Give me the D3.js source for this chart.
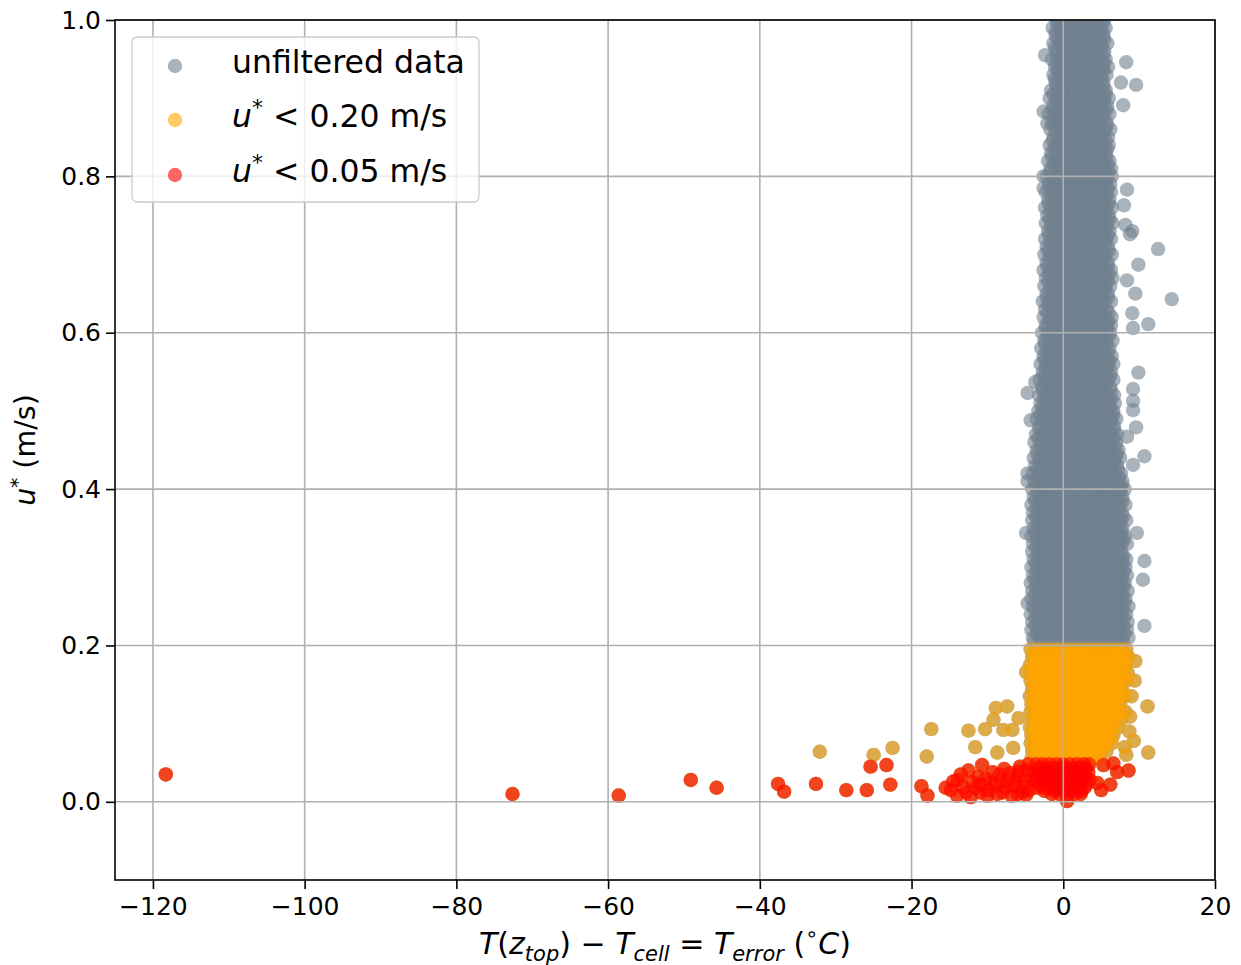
<!DOCTYPE html>
<html><head><meta charset="utf-8">
<script src="https://cdn.jsdelivr.net/npm/d3@7"></script>
<style>
body{margin:0;background:#fff}
svg{display:block}
text{font-family:"DejaVu Sans",sans-serif;fill:#000}
</style>
</head><body>
<svg id="chart" width="1241" height="965"></svg>
<script>
// ---------------- data ----------------
const xTicks = [-120, -100, -80, -60, -40, -20, 0, 20];
const yTicks = [0.0, 0.2, 0.4, 0.6, 0.8, 1.0];
const seriesNames = ["unfiltered data", "u*<0.20 m/s", "u*<0.05 m/s"];
const thresholds = [Infinity, 0.20, 0.05];

// dense cloud, read row by row: u* of each row and the T_error values in it
const coreU = [1.01,1.00,0.99,0.98,0.97,0.96,0.95,0.94,0.93,0.92,0.91,
 0.90,0.89,0.88,0.87,0.86,0.85,0.84,0.83,0.82,0.81,
 0.80,0.79,0.78,0.77,0.76,0.75,0.74,0.73,0.72,0.71,
 0.70,0.69,0.68,0.67,0.66,0.65,0.64,0.63,0.62,0.61,
 0.60,0.59,0.58,0.57,0.56,0.55,0.54,0.53,0.52,0.51,
 0.50,0.49,0.48,0.47,0.46,0.45,0.44,0.43,0.42,0.41,
 0.40,0.39,0.38,0.37,0.36,0.35,0.34,0.33,0.32,0.31,
 0.30,0.29,0.28,0.27,0.26,0.25,0.24,0.23,0.22,0.21,
 0.195,0.185,0.175,0.165,0.155,0.145,0.135,0.125,0.115,0.105,0.095,0.085,0.075,0.065,0.055,
 0.048,0.038,0.028,0.018,0.010];
const coreT = [
 [-1.2,-0.3,0.6,1.5,2.4,3.3,4.2,5.1,5.7],
 [-0.9,0.0,0.9,1.8,2.7,3.6,4.5,5.4],
 [-1.4,-0.5,0.4,1.3,2.2,3.1,4.0,4.9,5.6],
 [-1.0,-0.1,0.8,1.7,2.6,3.5,4.4,5.3],
 [-1.3,-0.4,0.5,1.4,2.3,3.2,4.1,5.0,5.8],
 [-0.9,0.0,0.9,1.8,2.7,3.6,4.5,5.4],
 [-1.5,-0.6,0.3,1.2,2.1,3.0,3.9,4.8,5.6],
 [-1.1,-0.2,0.7,1.6,2.5,3.4,4.3,5.2,5.9],
 [-1.3,-0.4,0.5,1.4,2.3,3.2,4.1,5.0,5.7],
 [-1.0,-0.1,0.8,1.7,2.6,3.5,4.4,5.3],
 [-1.6,-0.7,0.2,1.1,2.0,2.9,3.8,4.7,5.6],
 [-1.8,-0.9,0.0,0.9,1.8,2.7,3.6,4.5,5.4,6.0],
 [-1.4,-0.5,0.4,1.3,2.2,3.1,4.0,4.9,5.8],
 [-1.9,-1.0,-0.1,0.8,1.7,2.6,3.5,4.4,5.3,6.1],
 [-1.5,-0.6,0.3,1.2,2.1,3.0,3.9,4.8,5.7],
 [-1.7,-0.8,0.1,1.0,1.9,2.8,3.7,4.6,5.5,6.2],
 [-1.3,-0.4,0.5,1.4,2.3,3.2,4.1,5.0,5.9],
 [-1.8,-0.9,0.0,0.9,1.8,2.7,3.6,4.5,5.4,6.0],
 [-1.6,-0.7,0.2,1.1,2.0,2.9,3.8,4.7,5.6],
 [-2.0,-1.1,-0.2,0.7,1.6,2.5,3.4,4.3,5.2,6.1],
 [-1.7,-0.8,0.1,1.0,1.9,2.8,3.7,4.6,5.5,6.3],
 [-2.2,-1.3,-0.4,0.5,1.4,2.3,3.2,4.1,5.0,5.9,6.4],
 [-1.9,-1.0,-0.1,0.8,1.7,2.6,3.5,4.4,5.3,6.2],
 [-2.3,-1.4,-0.5,0.4,1.3,2.2,3.1,4.0,4.9,5.8,6.3],
 [-2.0,-1.1,-0.2,0.7,1.6,2.5,3.4,4.3,5.2,6.1],
 [-2.4,-1.5,-0.6,0.3,1.2,2.1,3.0,3.9,4.8,5.7,6.4],
 [-2.1,-1.2,-0.3,0.6,1.5,2.4,3.3,4.2,5.1,6.0],
 [-2.3,-1.4,-0.5,0.4,1.3,2.2,3.1,4.0,4.9,5.8,6.5],
 [-2.0,-1.1,-0.2,0.7,1.6,2.5,3.4,4.3,5.2,6.1],
 [-2.4,-1.5,-0.6,0.3,1.2,2.1,3.0,3.9,4.8,5.7,6.3],
 [-2.2,-1.3,-0.4,0.5,1.4,2.3,3.2,4.1,5.0,5.9],
 [-2.5,-1.6,-0.7,0.2,1.1,2.0,2.9,3.8,4.7,5.6,6.4],
 [-2.2,-1.3,-0.4,0.5,1.4,2.3,3.2,4.1,5.0,5.9],
 [-2.6,-1.7,-0.8,0.1,1.0,1.9,2.8,3.7,4.6,5.5,6.3],
 [-2.3,-1.4,-0.5,0.4,1.3,2.2,3.1,4.0,4.9,5.8,6.5],
 [-2.5,-1.6,-0.7,0.2,1.1,2.0,2.9,3.8,4.7,5.6,6.2],
 [-2.2,-1.3,-0.4,0.5,1.4,2.3,3.2,4.1,5.0,5.9],
 [-2.7,-1.8,-0.9,0.0,0.9,1.8,2.7,3.6,4.5,5.4,6.3],
 [-2.4,-1.5,-0.6,0.3,1.2,2.1,3.0,3.9,4.8,5.7],
 [-2.6,-1.7,-0.8,0.1,1.0,1.9,2.8,3.7,4.6,5.5,6.4],
 [-2.3,-1.4,-0.5,0.4,1.3,2.2,3.1,4.0,4.9,5.8,6.3],
 [-2.8,-1.9,-1.0,-0.1,0.8,1.7,2.6,3.5,4.4,5.3,6.2],
 [-2.5,-1.6,-0.7,0.2,1.1,2.0,2.9,3.8,4.7,5.6,6.5],
 [-2.9,-2.0,-1.1,-0.2,0.7,1.6,2.5,3.4,4.3,5.2,6.1],
 [-2.6,-1.7,-0.8,0.1,1.0,1.9,2.8,3.7,4.6,5.5,6.4],
 [-3.0,-2.1,-1.2,-0.3,0.6,1.5,2.4,3.3,4.2,5.1,6.0,6.6],
 [-2.7,-1.8,-0.9,0.0,0.9,1.8,2.7,3.6,4.5,5.4,6.3],
 [-3.1,-2.2,-1.3,-0.4,0.5,1.4,2.3,3.2,4.1,5.0,5.9,6.6],
 [-2.8,-1.9,-1.0,-0.1,0.8,1.7,2.6,3.5,4.4,5.3,6.2],
 [-3.2,-2.3,-1.4,-0.5,0.4,1.3,2.2,3.1,4.0,4.9,5.8,6.7],
 [-3.0,-2.1,-1.2,-0.3,0.6,1.5,2.4,3.3,4.2,5.1,6.0,6.8],
 [-3.3,-2.4,-1.5,-0.6,0.3,1.2,2.1,3.0,3.9,4.8,5.7,6.6],
 [-3.5,-2.6,-1.7,-0.8,0.1,1.0,1.9,2.8,3.7,4.6,5.5,6.4,7.0],
 [-3.2,-2.3,-1.4,-0.5,0.4,1.3,2.2,3.1,4.0,4.9,5.8,6.7],
 [-3.6,-2.7,-1.8,-0.9,0.0,0.9,1.8,2.7,3.6,4.5,5.4,6.3,7.1],
 [-3.8,-2.9,-2.0,-1.1,-0.2,0.7,1.6,2.5,3.4,4.3,5.2,6.1,7.0],
 [-3.5,-2.6,-1.7,-0.8,0.1,1.0,1.9,2.8,3.7,4.6,5.5,6.4,7.3],
 [-3.9,-3.0,-2.1,-1.2,-0.3,0.6,1.5,2.4,3.3,4.2,5.1,6.0,6.9,7.5],
 [-3.7,-2.8,-1.9,-1.0,-0.1,0.8,1.7,2.6,3.5,4.4,5.3,6.2,7.1],
 [-4.0,-3.1,-2.2,-1.3,-0.4,0.5,1.4,2.3,3.2,4.1,5.0,5.9,6.8,7.6],
 [-3.8,-2.9,-2.0,-1.1,-0.2,0.7,1.6,2.5,3.4,4.3,5.2,6.1,7.0,7.8],
 [-4.1,-3.2,-2.3,-1.4,-0.5,0.4,1.3,2.2,3.1,4.0,4.9,5.8,6.7,7.6,8.1],
 [-3.9,-3.0,-2.1,-1.2,-0.3,0.6,1.5,2.4,3.3,4.2,5.1,6.0,6.9,7.8],
 [-4.2,-3.3,-2.4,-1.5,-0.6,0.3,1.2,2.1,3.0,3.9,4.8,5.7,6.6,7.5,8.2],
 [-4.0,-3.1,-2.2,-1.3,-0.4,0.5,1.4,2.3,3.2,4.1,5.0,5.9,6.8,7.7],
 [-4.1,-3.2,-2.3,-1.4,-0.5,0.4,1.3,2.2,3.1,4.0,4.9,5.8,6.7,7.6,8.3],
 [-3.9,-3.0,-2.1,-1.2,-0.3,0.6,1.5,2.4,3.3,4.2,5.1,6.0,6.9,7.8],
 [-4.2,-3.3,-2.4,-1.5,-0.6,0.3,1.2,2.1,3.0,3.9,4.8,5.7,6.6,7.5,8.1],
 [-4.0,-3.1,-2.2,-1.3,-0.4,0.5,1.4,2.3,3.2,4.1,5.0,5.9,6.8,7.7,8.4],
 [-4.1,-3.2,-2.3,-1.4,-0.5,0.4,1.3,2.2,3.1,4.0,4.9,5.8,6.7,7.6],
 [-3.9,-3.0,-2.1,-1.2,-0.3,0.6,1.5,2.4,3.3,4.2,5.1,6.0,6.9,7.8,8.3],
 [-4.2,-3.3,-2.4,-1.5,-0.6,0.3,1.2,2.1,3.0,3.9,4.8,5.7,6.6,7.5,8.2],
 [-4.0,-3.1,-2.2,-1.3,-0.4,0.5,1.4,2.3,3.2,4.1,5.0,5.9,6.8,7.7,8.4],
 [-4.3,-3.4,-2.5,-1.6,-0.7,0.2,1.1,2.0,2.9,3.8,4.7,5.6,6.5,7.4,8.1],
 [-4.1,-3.2,-2.3,-1.4,-0.5,0.4,1.3,2.2,3.1,4.0,4.9,5.8,6.7,7.6,8.5],
 [-4.2,-3.3,-2.4,-1.5,-0.6,0.3,1.2,2.1,3.0,3.9,4.8,5.7,6.6,7.5,8.2],
 [-4.0,-3.1,-2.2,-1.3,-0.4,0.5,1.4,2.3,3.2,4.1,5.0,5.9,6.8,7.7,8.6],
 [-4.3,-3.4,-2.5,-1.6,-0.7,0.2,1.1,2.0,2.9,3.8,4.7,5.6,6.5,7.4,8.3],
 [-4.1,-3.2,-2.3,-1.4,-0.5,0.4,1.3,2.2,3.1,4.0,4.9,5.8,6.7,7.6,8.5],
 [-4.2,-3.3,-2.4,-1.5,-0.6,0.3,1.2,2.1,3.0,3.9,4.8,5.7,6.6,7.5,8.4],
 [-4.0,-3.1,-2.2,-1.3,-0.4,0.5,1.4,2.3,3.2,4.1,5.0,5.9,6.8,7.7,8.6],
 [-4.3,-3.4,-2.5,-1.6,-0.7,0.2,1.1,2.0,2.9,3.8,4.7,5.6,6.5,7.4,8.3],
 [-4.1,-3.2,-2.3,-1.4,-0.5,0.4,1.3,2.2,3.1,4.0,4.9,5.8,6.7,7.6,8.6],
 [-4.4,-3.5,-2.6,-1.7,-0.8,0.1,1.0,1.9,2.8,3.7,4.6,5.5,6.4,7.3,8.2],
 [-4.2,-3.3,-2.4,-1.5,-0.6,0.3,1.2,2.1,3.0,3.9,4.8,5.7,6.6,7.5,8.5],
 [-4.3,-3.4,-2.5,-1.6,-0.7,0.2,1.1,2.0,2.9,3.8,4.7,5.6,6.5,7.4,8.3],
 [-4.1,-3.2,-2.3,-1.4,-0.5,0.4,1.3,2.2,3.1,4.0,4.9,5.8,6.7,7.6],
 [-4.4,-3.5,-2.6,-1.7,-0.8,0.1,1.0,1.9,2.8,3.7,4.6,5.5,6.4,7.3,8.1],
 [-4.2,-3.3,-2.4,-1.5,-0.6,0.3,1.2,2.1,3.0,3.9,4.8,5.7,6.6,7.5],
 [-4.3,-3.4,-2.5,-1.6,-0.7,0.2,1.1,2.0,2.9,3.8,4.7,5.6,6.5,7.4,8.2],
 [-4.1,-3.2,-2.3,-1.4,-0.5,0.4,1.3,2.2,3.1,4.0,4.9,5.8,6.7,7.6],
 [-4.4,-3.5,-2.6,-1.7,-0.8,0.1,1.0,1.9,2.8,3.7,4.6,5.5,6.4,7.2],
 [-4.2,-3.3,-2.4,-1.5,-0.6,0.3,1.2,2.1,3.0,3.9,4.8,5.7,6.6],
 [-4.3,-3.4,-2.5,-1.6,-0.7,0.2,1.1,2.0,2.9,3.8,4.7,5.6,6.4],
 [-4.1,-3.2,-2.3,-1.4,-0.5,0.4,1.3,2.2,3.1,4.0,4.9,5.7],
 [-4.2,-3.3,-2.4,-1.5,-0.6,0.3,1.2,2.1,3.0,3.9,4.8],
 [-3.6,-2.7,-1.8,-0.9,0.0,0.9,1.8,2.7,3.4],
 [-3.9,-3.0,-2.1,-1.2,-0.3,0.6,1.5,2.4,3.3],
 [-3.7,-2.8,-1.9,-1.0,-0.1,0.8,1.7,2.6,3.5],
 [-3.5,-2.6,-1.7,-0.8,0.1,1.0,1.9,2.8],
 [-1.5,-0.5,0.5,1.5,2.3]
];

// in-between rows of the dense cloud (the cloud is denser than one row per 0.01)
const midU = [0.995,0.985,0.975,0.965,0.955,0.945,0.935,0.925,0.915,0.905,
 0.895,0.885,0.875,0.865,0.855,0.845,0.835,0.825,0.815,0.805,
 0.795,0.785,0.775,0.765,0.755,0.745,0.735,0.725,0.715,0.705,
 0.695,0.685,0.675,0.665,0.655,0.645,0.635,0.625,0.615,0.605,
 0.595,0.585,0.575,0.565,0.555,0.545,0.535,0.525,0.515,0.505,
 0.495,0.485,0.475,0.465,0.455,0.445,0.435,0.425,0.415,0.405,
 0.395,0.385,0.375,0.365,0.355,0.345,0.335,0.325,0.315,0.305,
 0.295,0.285,0.275,0.265,0.255,0.245,0.235,0.225,0.215,0.205,
 0.19,0.18,0.17,0.16,0.15,0.14,0.13,0.12,0.11,0.10,0.09,0.08,0.07,0.06,
 0.043,0.033,0.023,0.014];
const midT = [
 [-0.8,0.1,1.0,1.9,2.8,3.7,4.6,5.2],
 [-1.0,-0.1,0.8,1.7,2.6,3.5,4.4,5.2],
 [-0.7,0.2,1.1,2.0,2.9,3.8,4.7,5.4],
 [-1.1,-0.2,0.7,1.6,2.5,3.4,4.3,5.1],
 [-0.8,0.1,1.0,1.9,2.8,3.7,4.6,5.3],
 [-1.0,-0.1,0.8,1.7,2.6,3.5,4.4,5.4],
 [-0.7,0.2,1.1,2.0,2.9,3.8,4.7,5.3],
 [-1.1,-0.2,0.7,1.6,2.5,3.4,4.3,5.1],
 [-0.9,0.0,0.9,1.8,2.7,3.6,4.5,5.3],
 [-1.3,-0.4,0.5,1.4,2.3,3.2,4.1,5.0,5.6],
 [-1.0,-0.1,0.8,1.7,2.6,3.5,4.4,5.3],
 [-1.4,-0.5,0.4,1.3,2.2,3.1,4.0,4.9,5.7],
 [-1.1,-0.2,0.7,1.6,2.5,3.4,4.3,5.2],
 [-1.3,-0.4,0.5,1.4,2.3,3.2,4.1,5.0,5.8],
 [-1.0,-0.1,0.8,1.7,2.6,3.5,4.4,5.3],
 [-1.4,-0.5,0.4,1.3,2.2,3.1,4.0,4.9,5.6],
 [-1.2,-0.3,0.6,1.5,2.4,3.3,4.2,5.1,5.8],
 [-1.5,-0.6,0.3,1.2,2.1,3.0,3.9,4.8,5.7],
 [-1.3,-0.4,0.5,1.4,2.3,3.2,4.1,5.0,5.9],
 [-1.7,-0.8,0.1,1.0,1.9,2.8,3.7,4.6,5.5,6.0],
 [-1.5,-0.6,0.3,1.2,2.1,3.0,3.9,4.8,5.7],
 [-1.8,-0.9,0.0,0.9,1.8,2.7,3.6,4.5,5.4,5.9],
 [-1.6,-0.7,0.2,1.1,2.0,2.9,3.8,4.7,5.6],
 [-1.9,-1.0,-0.1,0.8,1.7,2.6,3.5,4.4,5.3,6.0],
 [-1.7,-0.8,0.1,1.0,1.9,2.8,3.7,4.6,5.5],
 [-1.8,-0.9,0.0,0.9,1.8,2.7,3.6,4.5,5.4,6.1],
 [-1.6,-0.7,0.2,1.1,2.0,2.9,3.8,4.7,5.6],
 [-1.9,-1.0,-0.1,0.8,1.7,2.6,3.5,4.4,5.3,5.9],
 [-1.7,-0.8,0.1,1.0,1.9,2.8,3.7,4.6,5.5],
 [-2.0,-1.1,-0.2,0.7,1.6,2.5,3.4,4.3,5.2,6.0],
 [-1.8,-0.9,0.0,0.9,1.8,2.7,3.6,4.5,5.4],
 [-2.1,-1.2,-0.3,0.6,1.5,2.4,3.3,4.2,5.1,5.9],
 [-1.9,-1.0,-0.1,0.8,1.7,2.6,3.5,4.4,5.3,6.0],
 [-2.0,-1.1,-0.2,0.7,1.6,2.5,3.4,4.3,5.2,5.8],
 [-1.8,-0.9,0.0,0.9,1.8,2.7,3.6,4.5,5.4],
 [-2.2,-1.3,-0.4,0.5,1.4,2.3,3.2,4.1,5.0,5.9],
 [-2.0,-1.1,-0.2,0.7,1.6,2.5,3.4,4.3,5.2],
 [-2.1,-1.2,-0.3,0.6,1.5,2.4,3.3,4.2,5.1,6.0],
 [-1.9,-1.0,-0.1,0.8,1.7,2.6,3.5,4.4,5.3,5.9],
 [-2.3,-1.4,-0.5,0.4,1.3,2.2,3.1,4.0,4.9,5.8],
 [-2.1,-1.2,-0.3,0.6,1.5,2.4,3.3,4.2,5.1,6.0],
 [-2.4,-1.5,-0.6,0.3,1.2,2.1,3.0,3.9,4.8,5.7],
 [-2.2,-1.3,-0.4,0.5,1.4,2.3,3.2,4.1,5.0,5.9],
 [-2.5,-1.6,-0.7,0.2,1.1,2.0,2.9,3.8,4.7,5.6,6.1],
 [-2.3,-1.4,-0.5,0.4,1.3,2.2,3.1,4.0,4.9,5.8],
 [-2.6,-1.7,-0.8,0.1,1.0,1.9,2.8,3.7,4.6,5.5,6.2],
 [-2.4,-1.5,-0.6,0.3,1.2,2.1,3.0,3.9,4.8,5.7],
 [-2.7,-1.8,-0.9,0.0,0.9,1.8,2.7,3.6,4.5,5.4,6.3],
 [-2.5,-1.6,-0.7,0.2,1.1,2.0,2.9,3.8,4.7,5.6,6.3],
 [-2.8,-1.9,-1.0,-0.1,0.8,1.7,2.6,3.5,4.4,5.3,6.2],
 [-3.0,-2.1,-1.2,-0.3,0.6,1.5,2.4,3.3,4.2,5.1,6.0,6.6],
 [-2.8,-1.9,-1.0,-0.1,0.8,1.7,2.6,3.5,4.4,5.3,6.2],
 [-3.1,-2.2,-1.3,-0.4,0.5,1.4,2.3,3.2,4.1,5.0,5.9,6.7],
 [-3.3,-2.4,-1.5,-0.6,0.3,1.2,2.1,3.0,3.9,4.8,5.7,6.6],
 [-3.0,-2.1,-1.2,-0.3,0.6,1.5,2.4,3.3,4.2,5.1,6.0,6.9],
 [-3.4,-2.5,-1.6,-0.7,0.2,1.1,2.0,2.9,3.8,4.7,5.6,6.5,7.1],
 [-3.2,-2.3,-1.4,-0.5,0.4,1.3,2.2,3.1,4.0,4.9,5.8,6.7],
 [-3.5,-2.6,-1.7,-0.8,0.1,1.0,1.9,2.8,3.7,4.6,5.5,6.4,7.2],
 [-3.3,-2.4,-1.5,-0.6,0.3,1.2,2.1,3.0,3.9,4.8,5.7,6.6,7.4],
 [-3.6,-2.7,-1.8,-0.9,0.0,0.9,1.8,2.7,3.6,4.5,5.4,6.3,7.2,7.7],
 [-3.4,-2.5,-1.6,-0.7,0.2,1.1,2.0,2.9,3.8,4.7,5.6,6.5,7.4],
 [-3.7,-2.8,-1.9,-1.0,-0.1,0.8,1.7,2.6,3.5,4.4,5.3,6.2,7.1,7.8],
 [-3.5,-2.6,-1.7,-0.8,0.1,1.0,1.9,2.8,3.7,4.6,5.5,6.4,7.3],
 [-3.6,-2.7,-1.8,-0.9,0.0,0.9,1.8,2.7,3.6,4.5,5.4,6.3,7.2,7.9],
 [-3.4,-2.5,-1.6,-0.7,0.2,1.1,2.0,2.9,3.8,4.7,5.6,6.5,7.4],
 [-3.7,-2.8,-1.9,-1.0,-0.1,0.8,1.7,2.6,3.5,4.4,5.3,6.2,7.1,7.7],
 [-3.5,-2.6,-1.7,-0.8,0.1,1.0,1.9,2.8,3.7,4.6,5.5,6.4,7.3,8.0],
 [-3.6,-2.7,-1.8,-0.9,0.0,0.9,1.8,2.7,3.6,4.5,5.4,6.3,7.2],
 [-3.4,-2.5,-1.6,-0.7,0.2,1.1,2.0,2.9,3.8,4.7,5.6,6.5,7.4,7.9],
 [-3.7,-2.8,-1.9,-1.0,-0.1,0.8,1.7,2.6,3.5,4.4,5.3,6.2,7.1,7.8],
 [-3.5,-2.6,-1.7,-0.8,0.1,1.0,1.9,2.8,3.7,4.6,5.5,6.4,7.3,8.0],
 [-3.8,-2.9,-2.0,-1.1,-0.2,0.7,1.6,2.5,3.4,4.3,5.2,6.1,7.0,7.7],
 [-3.6,-2.7,-1.8,-0.9,0.0,0.9,1.8,2.7,3.6,4.5,5.4,6.3,7.2,8.0],
 [-3.7,-2.8,-1.9,-1.0,-0.1,0.8,1.7,2.6,3.5,4.4,5.3,6.2,7.1,7.8],
 [-3.5,-2.6,-1.7,-0.8,0.1,1.0,1.9,2.8,3.7,4.6,5.5,6.4,7.3,8.1],
 [-3.8,-2.9,-2.0,-1.1,-0.2,0.7,1.6,2.5,3.4,4.3,5.2,6.1,7.0,7.9],
 [-3.6,-2.7,-1.8,-0.9,0.0,0.9,1.8,2.7,3.6,4.5,5.4,6.3,7.2,8.0],
 [-3.7,-2.8,-1.9,-1.0,-0.1,0.8,1.7,2.6,3.5,4.4,5.3,6.2,7.1,7.9],
 [-3.5,-2.6,-1.7,-0.8,0.1,1.0,1.9,2.8,3.7,4.6,5.5,6.4,7.3,8.1],
 [-3.8,-2.9,-2.0,-1.1,-0.2,0.7,1.6,2.5,3.4,4.3,5.2,6.1,7.0,7.9],
 [-3.8,-2.9,-2.0,-1.1,-0.2,0.7,1.6,2.5,3.4,4.3,5.2,6.1,7.0,7.9],
 [-3.6,-2.7,-1.8,-0.9,0.0,0.9,1.8,2.7,3.6,4.5,5.4,6.3,7.2,8.1],
 [-3.9,-3.0,-2.1,-1.2,-0.3,0.6,1.5,2.4,3.3,4.2,5.1,6.0,6.9,7.8],
 [-3.7,-2.8,-1.9,-1.0,-0.1,0.8,1.7,2.6,3.5,4.4,5.3,6.2,7.1,8.0],
 [-3.8,-2.9,-2.0,-1.1,-0.2,0.7,1.6,2.5,3.4,4.3,5.2,6.1,7.0],
 [-3.6,-2.7,-1.8,-0.9,0.0,0.9,1.8,2.7,3.6,4.5,5.4,6.3,7.2,7.9],
 [-3.9,-3.0,-2.1,-1.2,-0.3,0.6,1.5,2.4,3.3,4.2,5.1,6.0,6.9],
 [-3.7,-2.8,-1.9,-1.0,-0.1,0.8,1.7,2.6,3.5,4.4,5.3,6.2,7.1],
 [-3.8,-2.9,-2.0,-1.1,-0.2,0.7,1.6,2.5,3.4,4.3,5.2,6.1,7.0],
 [-3.6,-2.7,-1.8,-0.9,0.0,0.9,1.8,2.7,3.6,4.5,5.4,6.3],
 [-3.9,-3.0,-2.1,-1.2,-0.3,0.6,1.5,2.4,3.3,4.2,5.1,6.0],
 [-3.7,-2.8,-1.9,-1.0,-0.1,0.8,1.7,2.6,3.5,4.4,5.3,6.1],
 [-3.8,-2.9,-2.0,-1.1,-0.2,0.7,1.6,2.5,3.4,4.3,5.2],
 [-3.6,-2.7,-1.8,-0.9,0.0,0.9,1.8,2.7,3.6,4.4],
 [-3.2,-2.3,-1.4,-0.5,0.4,1.3,2.2,3.0],
 [-3.4,-2.5,-1.6,-0.7,0.2,1.1,2.0,2.9],
 [-3.2,-2.3,-1.4,-0.5,0.4,1.3,2.2,3.1],
 [-2.5,-1.2,0.0,1.2,2.4]
];

// scattered points outside the dense cloud
const outT = [
 -2.4, 8.3, 9.6, 7.6, -2.6, -2.1, 7.9, -2.6, -2.6, 8.4, 8.0, 8.2, 9.1, 8.8,
 12.5, 9.9, 8.4, 9.5, 14.3, 11.2, 9.1, 9.2, -4.7, -4.3, -3.7,
 9.9, 9.2, 9.2, 9.2, 9.6, 8.4, 10.7, 9.2, 9.7, 10.7, 10.5, 10.7,
 -4.7, -4.9, -4.7, -4.7,
 -17.4, -18.0, -22.5, -25.0, -32.1, -8.9, -7.4, -9.2, -10.3, -12.5, -7.9, -6.7, -5.9,
 -11.6, -8.7, -6.6, -4.9, 11.1, 11.2, 8.8, 9.5, 9.4, 9.0, 8.7, 9.3, 8.1, 8.3,
 -118.3, -72.6, -58.6, -49.1, -45.7, -37.6, -36.8, -32.6, -28.6, -25.9, -25.4, -23.3,
 -22.8, -18.7, -17.9, -15.5,
 -14.8, -14.5, -13.9, -13.2, -12.8, -12.5, -12.0, -11.5, -11.2, -10.9, -10.7, -10.2,
 -9.8, -9.6, -9.0, -8.4, -8.0, -7.6, -7.3, -7.0, -6.5, -6.1, -6.0, -5.7, -5.4, -5.0,
 -4.8, -4.5, -4.3,
 -14.0, -13.5, -12.2, -11.0, -10.0, -9.3, -8.7, -8.2, -7.8, -6.8, -6.3, -5.2, -4.9, -4.6, -5.9,
 5.3, 6.6, 7.1, 8.6, 6.2, 4.5, 5.0, 0.5
];
const outU = [
 0.955, 0.946, 0.917, 0.92, 0.883, 0.868, 0.891, 0.80, 0.785, 0.783, 0.763, 0.738, 0.73, 0.726,
 0.707, 0.687, 0.667, 0.65, 0.643, 0.611, 0.625, 0.606, 0.523, 0.488, 0.537,
 0.549, 0.528, 0.513, 0.501, 0.479, 0.467, 0.442, 0.431, 0.344, 0.308, 0.284, 0.225,
 0.42, 0.344, 0.254, 0.41,
 0.093, 0.058, 0.069, 0.06, 0.064, 0.12, 0.122, 0.105, 0.093, 0.091, 0.092, 0.092, 0.107,
 0.07, 0.063, 0.069, 0.166, 0.122, 0.063, 0.109, 0.18, 0.155, 0.135, 0.09, 0.078, 0.07, 0.06,
 0.035, 0.010, 0.008, 0.028, 0.018, 0.023, 0.013, 0.023, 0.015, 0.015, 0.045, 0.047,
 0.022, 0.020, 0.008, 0.018,
 0.015, 0.026, 0.028, 0.019, 0.012, 0.040, 0.025, 0.018, 0.032, 0.012, 0.047, 0.030,
 0.015, 0.024, 0.022, 0.035, 0.012, 0.018, 0.027, 0.037, 0.020, 0.033, 0.010, 0.045, 0.012, 0.028,
 0.040, 0.015, 0.030,
 0.008, 0.035, 0.006, 0.022, 0.008, 0.038, 0.010, 0.027, 0.042, 0.008, 0.026, 0.020, 0.009, 0.048, 0.039,
 0.047, 0.049, 0.038, 0.040, 0.022, 0.024, 0.015, 0.001
];

// ---------------- chart ----------------
const L = 115, R = 1215, T = 20, B = 880;
const colors = ["#708090", "#ffa500", "#ff0000"];
const alpha = 0.6, rad = 7.2;

const svg = d3.select("#chart");
const x = d3.scaleLinear().domain([-125, 20]).range([L, R]);
const y = d3.scaleLinear().domain([-0.1, 1.0]).range([B, T]);

svg.append("defs").append("clipPath").attr("id", "clip")
  .append("rect").attr("x", L).attr("y", T).attr("width", R - L).attr("height", B - T);

const all = [];
coreU.forEach((u, i) => coreT[i].forEach(t => all.push([t, u])));
midU.forEach((u, i) => midT[i].forEach(t => all.push([t, u])));
outT.forEach((t, i) => all.push([t, outU[i]]));

const plot = svg.append("g").attr("clip-path", "url(#clip)");
thresholds.forEach((th, k) => {
  const data = all.filter(p => p[1] < th);
  plot.append("g").selectAll("circle").data(data).join("circle")
    .attr("cx", d => x(d[0])).attr("cy", d => y(d[1])).attr("r", rad)
    .attr("fill", colors[k]).attr("fill-opacity", alpha);
});

// grid drawn above the points (matplotlib default order)
const grid = svg.append("g").attr("stroke", "#b0b0b0").attr("stroke-width", 1.6);
grid.selectAll(".gx").data(xTicks).join("line")
  .attr("x1", d => x(d)).attr("x2", d => x(d)).attr("y1", T).attr("y2", B);
grid.selectAll(".gy").data(yTicks).join("line")
  .attr("x1", L).attr("x2", R).attr("y1", d => y(d)).attr("y2", d => y(d));

// axes
const fs = 25;
const ax = svg.append("g").attr("transform", `translate(0,${B})`)
  .call(d3.axisBottom(x).tickValues(xTicks).tickSize(9).tickSizeOuter(0).tickPadding(8).tickFormat(d3.format("d")));
const ay = svg.append("g").attr("transform", `translate(${L},0)`)
  .call(d3.axisLeft(y).tickValues(yTicks).tickSize(9).tickSizeOuter(0).tickPadding(5).tickFormat(d3.format(".1f")));
[ax, ay].forEach(g => {
  g.select(".domain").remove();
  g.selectAll(".tick line").attr("stroke", "#000").attr("stroke-width", 1.6);
  g.selectAll(".tick text").attr("font-size", fs).attr("font-family", "DejaVu Sans").attr("fill", "#000");
});

// frame
svg.append("rect").attr("x", L).attr("y", T).attr("width", R - L).attr("height", B - T)
  .attr("fill", "none").attr("stroke", "#000").attr("stroke-width", 1.6);

// x label (mathtext-like)
const xfs = 30, sub = 21, sd = 7;
const xl = svg.append("text").attr("x", (L + R) / 2).attr("y", 954)
  .attr("text-anchor", "middle").attr("font-size", xfs).style("white-space", "pre");
const parts = [
  {t: "T", i: 1}, {t: "("}, {t: "z", i: 1}, {t: "top", i: 1, s: sub, dy: sd}, {t: ")", dy: -sd},
  {t: " − "}, {t: "T", i: 1}, {t: "cell", i: 1, s: sub, dy: sd}, {t: " = ", dy: -sd},
  {t: "T", i: 1}, {t: "error", i: 1, s: sub, dy: sd}, {t: " (", dy: -sd},
  {t: "∘", s: sub, dy: -13}, {t: "C", i: 1, dy: 13}, {t: ")"}
];
parts.forEach(p => {
  const ts = xl.append("tspan").text(p.t);
  if (p.i) ts.attr("font-style", "italic");
  if (p.s) ts.attr("font-size", p.s);
  if (p.dy) ts.attr("dy", p.dy);
});

// y label
const yfs = 28.5;
const yl = svg.append("text").attr("transform", "translate(35,450) rotate(-90)")
  .attr("text-anchor", "middle").attr("font-size", yfs).style("white-space", "pre");
yl.append("tspan").attr("font-style", "italic").text("u");
yl.append("tspan").attr("font-size", 20).attr("dy", -11).text("*");
yl.append("tspan").attr("dy", 11).text(" (m/s)");

// legend
const lg = svg.append("g");
lg.append("rect").attr("x", 132).attr("y", 37).attr("width", 347).attr("height", 165).attr("rx", 5)
  .attr("fill", "#fff").attr("fill-opacity", 0.8).attr("stroke", "#cccccc").attr("stroke-width", 1.3);
const lfs = 31.5;
const rowY = [66, 120, 175];
seriesNames.forEach((n, k) => {
  lg.append("circle").attr("cx", 175).attr("cy", rowY[k]).attr("r", rad)
    .attr("fill", colors[k]).attr("fill-opacity", alpha);
  const t = lg.append("text").attr("x", 232).attr("y", rowY[k] + 7)
    .attr("font-size", lfs).style("white-space", "pre");
  if (k === 0) { t.text(n); }
  else {
    t.append("tspan").attr("font-style", "italic").text("u");
    t.append("tspan").attr("font-size", 22).attr("dy", -12).text("*");
    t.append("tspan").attr("dy", 12).text(" < " + (k === 1 ? "0.20" : "0.05") + " m/s");
  }
});
</script>
</body></html>
